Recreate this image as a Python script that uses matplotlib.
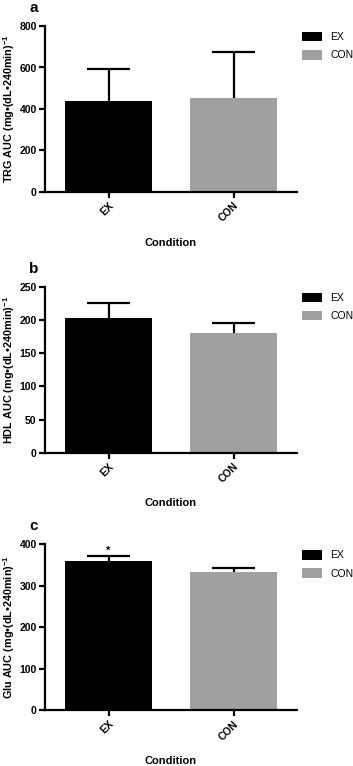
import numpy as np
from matplotlib import pyplot as plt

plt.rcParams['font.family'] = ['Liberation Sans', 'DejaVu Sans']
plt.rcParams['mathtext.fontset'] = 'custom'
plt.rcParams['mathtext.bf'] = 'Liberation Sans:bold'
plt.rcParams['mathtext.rm'] = 'Liberation Sans:bold'
plt.rcParams['mathtext.default'] = 'bf'

conditions = ['EX', 'CON']
colors = ['#000000', '#a0a0a0']

trg_mean = [440, 451]
trg_sem = [151, 225]
hdl_mean = [203, 180]
hdl_sem = [22, 15]
glu_mean = [359, 334]
glu_sem = [12, 10]

panels = [
    ('a', 'TRG AUC (mg•(dL•240min)$^{-1}$', trg_mean, trg_sem, 800, 200, None),
    ('b', 'HDL AUC (mg•(dL•240min)$^{-1}$', hdl_mean, hdl_sem, 250, 50, None),
    ('c', 'Glu AUC (mg•(dL•240min)$^{-1}$', glu_mean, glu_sem, 400, 100, 0),
]

W, H = 353, 766
fig = plt.figure(figsize=(W / 100, H / 100), dpi=100)

# axes boxes in pixels: (top, bottom)
boxes = [(26, 192), (286.7, 452.7), (544.3, 710.3)]
left_px, right_px = 45, 297

for (letter, ylabel, means, sems, ymax, ystep, star), (top, bot) in zip(panels, boxes):
    ax = fig.add_axes([left_px / W, 1 - bot / H, (right_px - left_px) / W, (bot - top) / H])
    x = np.arange(len(conditions))
    ax.bar(x, means, width=0.7, color=colors, label=conditions, zorder=2)
    # upper-only error bars
    tops = np.array(means) + np.array(sems)
    ax.vlines(x, means, tops, color='black', lw=1.6, zorder=3)
    ax.hlines(tops, x - 0.17, x + 0.17, color='black', lw=1.6, zorder=3)
    if star is not None:
        ax.text(x[star], tops[star] + ymax * 0.005, '*', ha='center',
                va='bottom', fontsize=8, fontweight='bold')
    ax.set_xlim(-0.508, 1.508)
    ax.set_ylim(0, ymax)
    ax.set_yticks(np.arange(0, ymax + 1, ystep))
    ax.set_xticks(x)
    ax.set_xticklabels(conditions, rotation=45, ha='right', rotation_mode='anchor')
    for sp in ['top', 'right']:
        ax.spines[sp].set_visible(False)
    for sp in ['left', 'bottom']:
        ax.spines[sp].set_linewidth(1.6)
    ax.tick_params(width=1.6, length=4, labelsize=7.5, pad=2)
    for lab in ax.get_xticklabels() + ax.get_yticklabels():
        lab.set_fontweight('bold')
    ax.set_ylabel(ylabel, fontsize=7.8, fontweight='bold', labelpad=2)
    ax.set_xlabel('Condition', fontsize=8, fontweight='bold', labelpad=10)
    ax.legend(loc='upper left', bbox_to_anchor=(1.02, 0.965), frameon=False,
              fontsize=7.5, handlelength=1.9, handleheight=1.05, labelspacing=0.75,
              handletextpad=0.8, borderpad=0, borderaxespad=0)
    fig.text(29 / W, 1 - (top - 18) / H, letter, fontsize=11, fontweight='bold',
             ha='left', va='center')

fig.savefig('out.png', dpi=100)
